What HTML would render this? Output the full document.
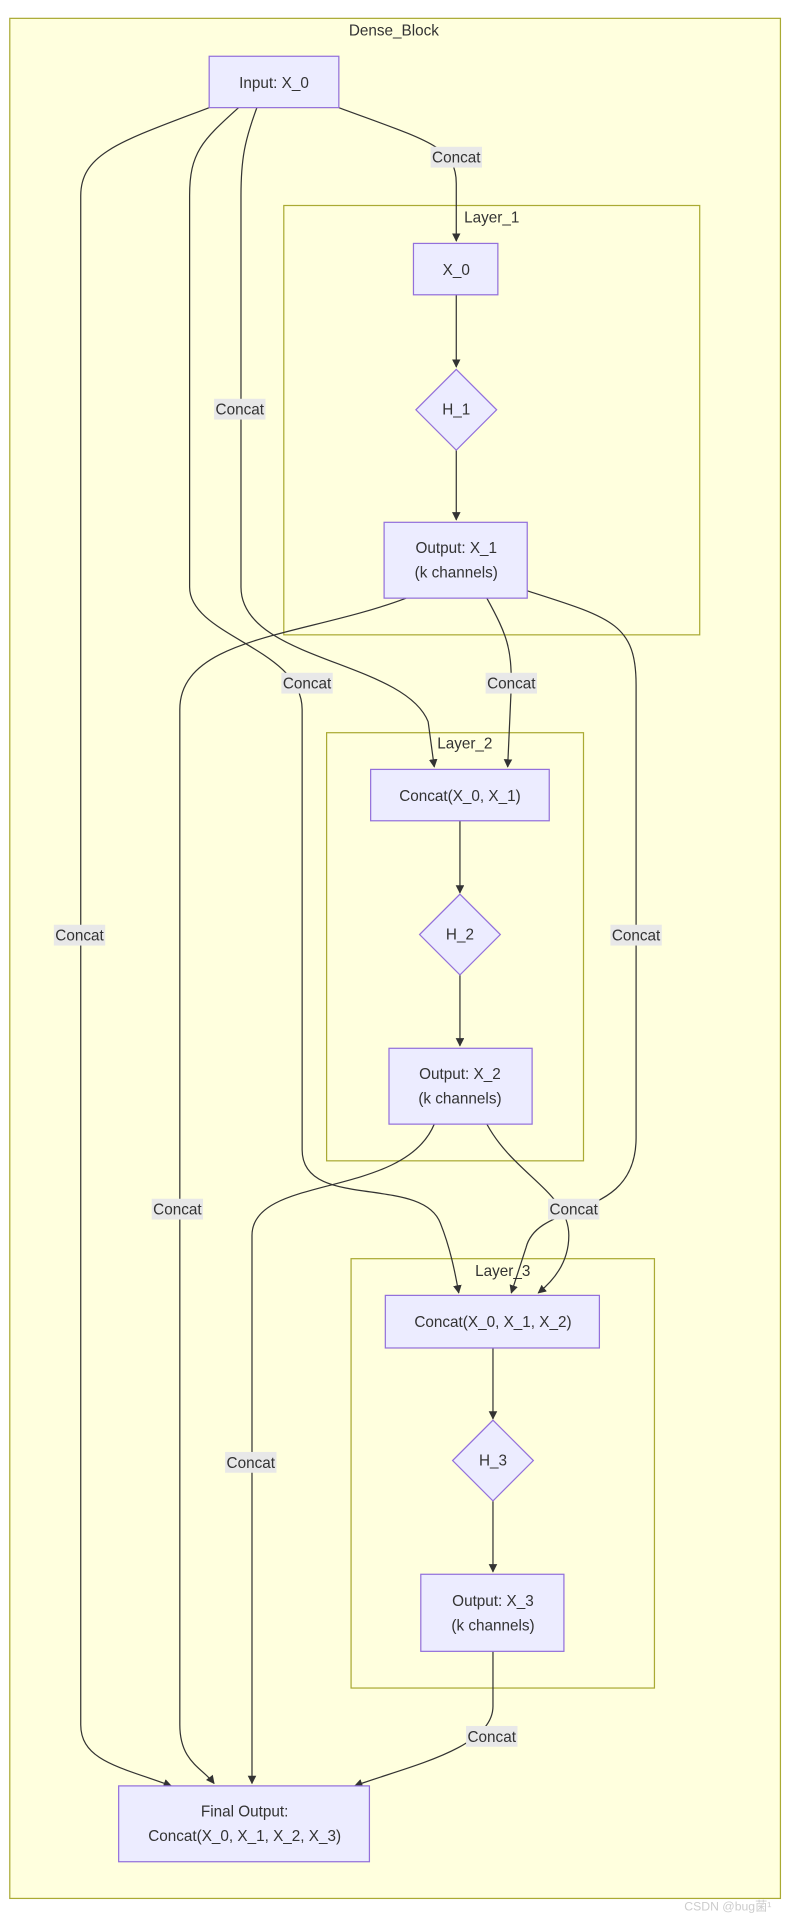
<!DOCTYPE html>
<html><head><meta charset="utf-8"><style>
html,body{margin:0;padding:0;background:#fff;}
svg{display:block;}
text{font-family:"Liberation Sans","DejaVu Sans",sans-serif;font-size:12.5px;fill:#333;}
</style></head><body>
<svg width="789" height="1918" viewBox="0 0 645 1568" preserveAspectRatio="none" xmlns="http://www.w3.org/2000/svg">
<defs><marker id="a" viewBox="0 0 10 10" refX="9" refY="5" markerWidth="7" markerHeight="7" orient="auto"><path d="M0,0L10,5L0,10z" fill="#333"/></marker></defs>
<rect x="8" y="15" width="630" height="1537" fill="#ffffde" stroke="#aaaa33"/>
<text x="322" y="29" text-anchor="middle">Dense_Block</text>
<rect x="232" y="168" width="340" height="351" fill="#ffffde" stroke="#aaaa33"/>
<text x="402" y="182" text-anchor="middle">Layer_1</text>
<rect x="267" y="599" width="210" height="350" fill="#ffffde" stroke="#aaaa33"/>
<text x="380" y="612" text-anchor="middle">Layer_2</text>
<rect x="287" y="1029" width="248" height="351" fill="#ffffde" stroke="#aaaa33"/>
<text x="411" y="1043" text-anchor="middle">Layer_3</text>
<g fill="none" stroke="#333" stroke-width="1">
<path d="M277,88 C350,115 373,120 373,150 L373,197" marker-end="url(#a)"/>
<path d="M171,88 C100,115 66,125 66,160 L66,1410 C66,1440 100,1445 140,1460" marker-end="url(#a)"/>
<path d="M195,88 C165,115 155,125 155,160 L155,480 C155,520 247,530 247,580 L247,940 C247,990 345,960 360,1000 C368,1020 372,1040 375,1057" marker-end="url(#a)"/>
<path d="M210,88 C200,115 197,130 197,160 L197,480 C197,540 330,540 350,590 L355,627" marker-end="url(#a)"/>
<path d="M373,241 L373,300" marker-end="url(#a)"/>
<path d="M373,368 L373,425" marker-end="url(#a)"/>
<path d="M332,489 C250,520 147,520 147,580 L147,1410 C147,1440 165,1445 175,1458" marker-end="url(#a)"/>
<path d="M398,489 C415,520 418,530 418,560 L415,627" marker-end="url(#a)"/>
<path d="M431,483 C500,505 520,510 520,560 L520,930 C520,1000 440,980 430,1020 L418,1057" marker-end="url(#a)"/>
<path d="M376,671 L376,730" marker-end="url(#a)"/>
<path d="M376,797 L376,855" marker-end="url(#a)"/>
<path d="M355,919 C330,980 206,960 206,1010 L206,1458" marker-end="url(#a)"/>
<path d="M398,919 C420,960 465,975 465,1010 C465,1030 455,1045 440,1057" marker-end="url(#a)"/>
<path d="M403,1102 L403,1160" marker-end="url(#a)"/>
<path d="M403,1227 L403,1285" marker-end="url(#a)"/>
<path d="M403,1350 L403,1395 C403,1430 330,1445 290,1460" marker-end="url(#a)"/>
</g>
<g fill="#e8e8e8">
<rect x="352" y="120" width="42" height="17"/><rect x="44" y="756" width="42" height="17"/>
<rect x="230" y="550" width="42" height="17"/><rect x="175" y="326" width="42" height="17"/>
<rect x="124" y="980" width="42" height="17"/><rect x="397" y="550" width="42" height="17"/>
<rect x="499" y="756" width="42" height="17"/><rect x="184" y="1187" width="42" height="17"/>
<rect x="448" y="980" width="42" height="17"/><rect x="381" y="1411" width="42" height="17"/>
</g>
<g text-anchor="middle">
<text x="373" y="133">Concat</text><text x="65" y="769">Concat</text>
<text x="251" y="563">Concat</text><text x="196" y="339">Concat</text>
<text x="145" y="993">Concat</text><text x="418" y="563">Concat</text>
<text x="520" y="769">Concat</text><text x="205" y="1200">Concat</text>
<text x="469" y="993">Concat</text><text x="402" y="1424">Concat</text>
</g>
<g fill="#ececff" stroke="#9370db">
<rect x="171" y="46" width="106" height="42"/>
<rect x="338" y="199" width="69" height="42"/>
<polygon points="373,302 406,335 373,368 340,335"/>
<rect x="314" y="427" width="117" height="62"/>
<rect x="303" y="629" width="146" height="42"/>
<polygon points="376,731 409,764 376,797 343,764"/>
<rect x="318" y="857" width="117" height="62"/>
<rect x="315" y="1059" width="175" height="43"/>
<polygon points="403,1161 436,1194 403,1227 370,1194"/>
<rect x="344" y="1287" width="117" height="63"/>
<rect x="97" y="1460" width="205" height="62"/>
</g>
<g text-anchor="middle">
<text x="224" y="72">Input: X_0</text>
<text x="373" y="225">X_0</text>
<text x="373" y="339">H_1</text>
<text x="373" y="452">Output: X_1</text><text x="373" y="472">(k channels)</text>
<text x="376" y="655">Concat(X_0, X_1)</text>
<text x="376" y="768">H_2</text>
<text x="376" y="882">Output: X_2</text><text x="376" y="902">(k channels)</text>
<text x="403" y="1085">Concat(X_0, X_1, X_2)</text>
<text x="403" y="1198">H_3</text>
<text x="403" y="1313">Output: X_3</text><text x="403" y="1333">(k channels)</text>
<text x="200" y="1485">Final Output:</text><text x="200" y="1505">Concat(X_0, X_1, X_2, X_3)</text>
</g>
<text x="595" y="1562" text-anchor="middle" style="font-size:10px;fill:#ccc">CSDN @bug菌¹</text>
</svg>
</body></html>
